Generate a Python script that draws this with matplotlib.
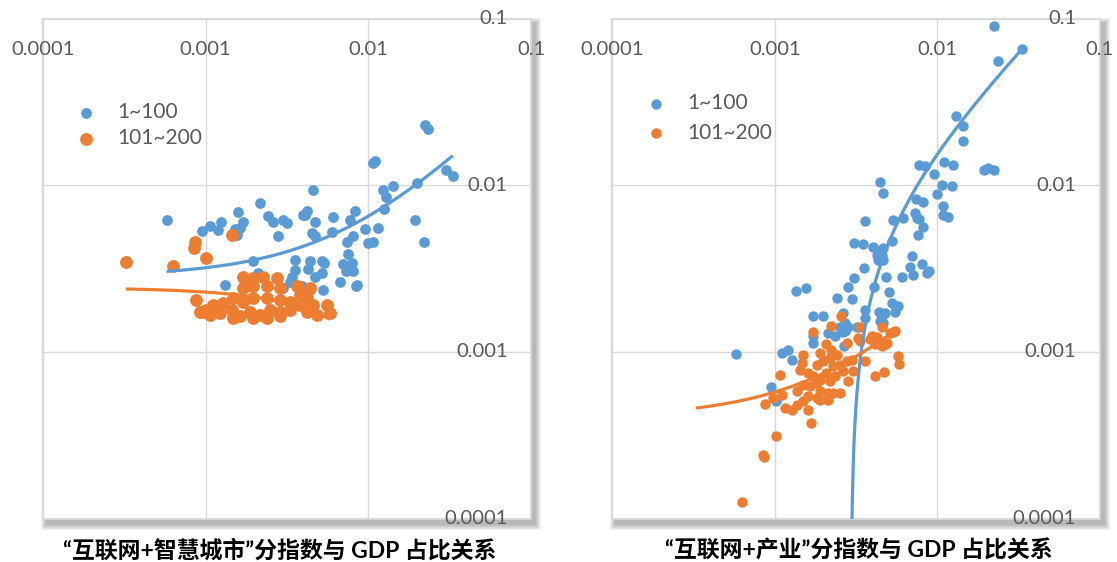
import numpy as np
import matplotlib
matplotlib.use('Agg')
import matplotlib.pyplot as plt
from matplotlib.patches import Rectangle
from matplotlib import transforms

plt.rcParams['font.family'] = ['Lato', 'DejaVu Sans']

BLUE = '#5b9bd5'
ORANGE = '#ed7d31'
GRID = '#d9d9d9'
LABEL = '#595959'

series_names = ['1~100', '101~200']
tick_values = [0.0001, 0.001, 0.01, 0.1]
tick_labels = ['0.0001', '0.001', '0.01', '0.1']
captions = ['“互联网+智慧城市”分指数与 GDP 占比关系',
            '“互联网+产业”分指数与 GDP 占比关系']

# 智慧城市分指数 vs GDP 占比, 排名 1~100
city_top_x = [0.0223, 0.0234, 0.0107, 0.0110, 0.0299, 0.0330, 0.0200, 0.0141, 0.0123, 0.01285,
              0.0125, 0.00459, 0.00828, 0.00408, 0.00422, 0.00604, 0.00470, 0.00772, 0.0194, 0.00955,
              0.01153, 0.00596, 0.00449, 0.00470, 0.00809, 0.00736, 0.0100, 0.0107, 0.0220, 0.00753,
              0.00438, 0.00517, 0.00534, 0.00702, 0.00791, 0.00428, 0.00729, 0.00809, 0.00470, 0.00517,
              0.00670, 0.00855, 0.00840, 0.00529, 0.00216, 0.001585, 0.000575, 0.00243, 0.00261, 0.00300,
              0.00315, 0.00398, 0.00170, 0.00125, 0.00106, 0.000945, 0.00119, 0.00151, 0.00163, 0.00155,
              0.00279, 0.00354, 0.00354, 0.00196, 0.00330, 0.00338, 0.001315, 0.00210, 0.00300, 0.00179,
              0.00389, 0.00438]
city_top_y = [0.0232, 0.0218, 0.0136, 0.0141, 0.01245, 0.01135, 0.01035, 0.00998, 0.00935, 0.00853,
              0.00722, 0.00935, 0.00699, 0.00668, 0.00699, 0.00643, 0.00600, 0.00623, 0.00623, 0.00548,
              0.00556, 0.00523, 0.00519, 0.00495, 0.00499, 0.00455, 0.00452, 0.00455, 0.00459, 0.00388,
              0.00350, 0.00350, 0.00343, 0.00339, 0.00343, 0.00315, 0.00305, 0.00305, 0.00284, 0.00298,
              0.00263, 0.00254, 0.00248, 0.00237, 0.00785, 0.00693, 0.00617, 0.00659, 0.00600, 0.00623,
              0.00596, 0.00668, 0.00604, 0.00604, 0.00575, 0.00530, 0.00537, 0.00548, 0.00556, 0.00507,
              0.00499, 0.00358, 0.00312, 0.00353, 0.00265, 0.00284, 0.00254, 0.00298, 0.00242, 0.00248,
              0.00248, 0.00237]

# 智慧城市分指数 vs GDP 占比, 排名 101~200
city_mid_x = [0.001445, 0.000859, 0.000847, 0.00101, 0.000324, 0.000627, 0.000871, 0.000959,
              0.00170, 0.00196, 0.00226, 0.00273, 0.00170, 0.00196, 0.00237, 0.00286, 0.00363, 0.00438,
              0.00380, 0.00418, 0.00148, 0.00128, 0.00111, 0.00101, 0.00122, 0.001445, 0.00170, 0.00196,
              0.00237, 0.00286, 0.00330, 0.00187, 0.00216, 0.00248, 0.00286, 0.00330, 0.00380, 0.00459,
              0.00555, 0.00581, 0.00482, 0.00418, 0.00163, 0.00148, 0.00196, 0.00237, 0.00286, 0.00106,
              0.000923]
city_mid_y = [0.00507, 0.00455, 0.00422, 0.00367, 0.00345, 0.00330, 0.00204, 0.00173,
              0.00284, 0.00278, 0.00284, 0.00278, 0.00242, 0.00248, 0.00248, 0.00242, 0.00248, 0.00242,
              0.00221, 0.00211, 0.00211, 0.00197, 0.00192, 0.00179, 0.00171, 0.00179, 0.00201, 0.00211,
              0.00211, 0.00206, 0.00201, 0.00175, 0.00167, 0.00179, 0.00175, 0.00179, 0.00192, 0.00192,
              0.00192, 0.00171, 0.00167, 0.00175, 0.00164, 0.00160, 0.00160, 0.00160, 0.00164, 0.00167,
              0.00175]

# 产业分指数 vs GDP 占比, 排名 1~100
ind_top_x = [0.0224, 0.0334, 0.0238, 0.01303, 0.01435, 0.01435, 0.00774, 0.00840, 0.01104, 0.01256,
             0.00959, 0.0194, 0.0206, 0.0223, 0.00444, 0.00465, 0.01064, 0.01236, 0.0100, 0.00739,
             0.00820, 0.01079, 0.01089, 0.01169, 0.00729, 0.00746, 0.00774, 0.00531, 0.00612, 0.00813,
             0.00764, 0.00524, 0.00465, 0.00465, 0.00444, 0.00695, 0.00679, 0.00802, 0.00861, 0.00893,
             0.00705, 0.00604, 0.00483, 0.00506, 0.00524, 0.00575, 0.00549, 0.00476, 0.00454, 0.00465,
             0.00359, 0.00307, 0.00350, 0.00404, 0.00454, 0.00424, 0.00433, 0.00355, 0.00308, 0.00283,
             0.00409, 0.00135, 0.00155, 0.00243, 0.00297, 0.00359, 0.00359, 0.00439, 0.00444, 0.00264,
             0.00171, 0.00197, 0.00251, 0.00270, 0.00283, 0.00270, 0.00213, 0.00234, 0.00319, 0.00171,
             0.000573, 0.00110, 0.00121, 0.00127, 0.00171, 0.00264, 0.000942, 0.00102, 0.00266]
ind_top_y = [0.0912, 0.0661, 0.0562, 0.0260, 0.0229, 0.0184, 0.01334, 0.01303, 0.01377, 0.01334,
             0.01172, 0.01233, 0.01274, 0.01233, 0.01044, 0.00902, 0.01011, 0.00988, 0.00893, 0.00833,
             0.00791, 0.00748, 0.00668, 0.00647, 0.00684, 0.00638, 0.00629, 0.00623, 0.00638, 0.00564,
             0.00507, 0.00466, 0.00422, 0.00358, 0.00402, 0.00379, 0.00324, 0.00338, 0.00298, 0.00305,
             0.00291, 0.00284, 0.00284, 0.00228, 0.00197, 0.00188, 0.00175, 0.00171, 0.00164, 0.00149,
             0.00615, 0.00452, 0.00447, 0.00427, 0.00384, 0.00384, 0.00358, 0.00320, 0.00278, 0.00246,
             0.00246, 0.00231, 0.00241, 0.00211, 0.00208, 0.00179, 0.00160, 0.00175, 0.00153, 0.00171,
             0.00164, 0.00165, 0.00142, 0.00149, 0.00142, 0.00133, 0.00130, 0.00124, 0.00141, 0.00124,
             0.000972, 0.000986, 0.00103, 0.000899, 0.00113, 0.00131, 0.000617, 0.000505, 0.00108]

# 产业分指数 vs GDP 占比, 排名 101~200
ind_mid_x = [0.00454, 0.00511, 0.00536, 0.00476, 0.00454, 0.00575, 0.00583, 0.00470, 0.00254, 0.00221,
             0.00171, 0.00334, 0.00394, 0.00424, 0.00326, 0.00277, 0.00334, 0.00385, 0.00413, 0.00488,
             0.00549, 0.00413, 0.00359, 0.00297, 0.00303, 0.00283, 0.00251, 0.00208, 0.00223, 0.00240,
             0.00218, 0.00189, 0.00198, 0.00181, 0.00149, 0.00146, 0.00143, 0.00160, 0.00172, 0.00189,
             0.00208, 0.00229, 0.00251, 0.00277, 0.00264, 0.00234, 0.00218, 0.00181, 0.00164, 0.00149,
             0.00136, 0.00189, 0.00213, 0.00229, 0.00181, 0.00160, 0.00149, 0.00136, 0.00127, 0.00115,
             0.00110, 0.00107, 0.00160, 0.00168, 0.00213, 0.00189, 0.000868, 0.000977, 0.00102, 0.000847,
             0.000859, 0.000624]
ind_mid_y = [0.00142, 0.00130, 0.00131, 0.00111, 0.00108, 0.000940, 0.000850, 0.000754, 0.00165, 0.00144,
             0.00131, 0.00141, 0.00124, 0.00123, 0.00121, 0.00113, 0.00116, 0.00119, 0.00111, 0.00113,
             0.00133, 0.000714, 0.000878, 0.000899, 0.000764, 0.000665, 0.000567, 0.00111, 0.00103, 0.000963,
             0.000920, 0.000986, 0.000878, 0.000839, 0.000963, 0.000859, 0.000783, 0.000748, 0.000714, 0.000682,
             0.000748, 0.000820, 0.000839, 0.000878, 0.000764, 0.000714, 0.000665, 0.000651, 0.000621, 0.000637,
             0.000580, 0.000580, 0.000567, 0.000570, 0.000530, 0.000541, 0.000505, 0.000483, 0.000450, 0.000461,
             0.000554, 0.000731, 0.000450, 0.000375, 0.000517, 0.000517, 0.000489, 0.000530, 0.000314, 0.000242,
             0.000233, 0.000125]

# linear trendlines y = a + b*x: (a, b, x_start, x_end)
city_top_trend = (0.002835, 0.3717, 0.000575, 0.0330)
city_mid_trend = (0.00244, -0.15, 0.000324, 0.00581)
ind_top_trend = (-0.0064, 2.175, 0.000573, 0.0334)
ind_mid_trend = (0.000405, 0.17, 0.000327, 0.00583)


def drop_shadow(fig, ax, dx=4, dy=5, blur=6, alpha=0.05):
    W, H = fig.get_size_inches() * fig.dpi
    bb = ax.get_position()
    x0, y0, w, h = bb.x0 * W, bb.y0 * H, bb.width * W, bb.height * H
    for i in range(blur, 0, -1):
        fig.patches.append(Rectangle(((x0 + dx - i) / W, (y0 - dy - i) / H),
                                     (w + 2 * i) / W, (h + 2 * i) / H,
                                     transform=fig.transFigure, facecolor='black',
                                     edgecolor='none', alpha=alpha, zorder=-1))


def trend(ax, coeffs, color):
    a, b, x0, x1 = coeffs
    xs = np.geomspace(x0, x1, 4000)
    ys = a + b * xs
    keep = ys > 0
    ax.plot(xs[keep], ys[keep], color=color, lw=2.3, solid_capstyle='butt', zorder=4)


def panel(ax, top, mid, sizes, legend_anchor, legend_spacing):
    ax.set_xscale('log')
    ax.set_yscale('log')
    ax.set_xlim(tick_values[0], tick_values[-1])
    ax.set_ylim(tick_values[0], tick_values[-1])
    ax.set_xticks(tick_values)
    ax.set_yticks(tick_values)
    ax.minorticks_off()
    ax.tick_params(length=0, labelbottom=False, labelleft=False)
    ax.grid(True, which='major', color=GRID, lw=1.0)
    ax.set_axisbelow(True)
    for s in ax.spines.values():
        s.set_color(GRID)
        s.set_linewidth(1.3)

    ax.scatter(top[0], top[1], s=sizes[0], color=BLUE, lw=0, label=series_names[0], zorder=2)
    ax.scatter(mid[0], mid[1], s=sizes[1], color=ORANGE, lw=0, label=series_names[1], zorder=3)
    trend(ax, top[2], BLUE)
    trend(ax, mid[2], ORANGE)

    # tick labels sit inside the plot area: x along the top, y on the right
    tx = transforms.blended_transform_factory(ax.transData, ax.transAxes)
    ty = transforms.blended_transform_factory(ax.transAxes, ax.transData)
    for v, lab in zip(tick_values, tick_labels):
        ax.text(v, 0.938, lab, transform=tx, ha='center', va='center',
                fontsize=14.5, color=LABEL, zorder=5)
        ax.text(0.952, v, lab, transform=ty, ha='right', va='center',
                fontsize=14.5, color=LABEL, zorder=5)

    leg = ax.legend(loc='upper left', bbox_to_anchor=legend_anchor, frameon=False,
                    fontsize=15, handlelength=1.0, handletextpad=1.0,
                    labelspacing=legend_spacing, borderpad=0, borderaxespad=0,
                    scatterpoints=1)
    for t in leg.get_texts():
        t.set_color(LABEL)


fig = plt.figure(figsize=(11.17, 5.62), dpi=100)
fig.patch.set_facecolor('white')

ax1 = fig.add_axes([0.0385, 0.0774, 0.4369, 0.8888])
ax2 = fig.add_axes([0.5483, 0.0774, 0.4361, 0.8888])

panel(ax1, (city_top_x, city_top_y, city_top_trend),
      (city_mid_x, city_mid_y, city_mid_trend),
      (60, 85), (0.066, 0.833), 0.28)
panel(ax2, (ind_top_x, ind_top_y, ind_top_trend),
      (ind_mid_x, ind_mid_y, ind_mid_trend),
      (56, 56), (0.068, 0.851), 0.44)

for ax in (ax1, ax2):
    drop_shadow(fig, ax)

cap_font = ['Lato', 'Noto Sans CJK SC']
fig.text(0.2507, 0.0214, captions[0], ha='center', va='center', fontsize=16.5,
         fontweight='bold', family=cap_font, color='black')
fig.text(0.769, 0.0214, captions[1], ha='center', va='center', fontsize=16.5,
         fontweight='bold', family=cap_font, color='black')

fig.savefig('out.png', dpi=100, facecolor='white')
